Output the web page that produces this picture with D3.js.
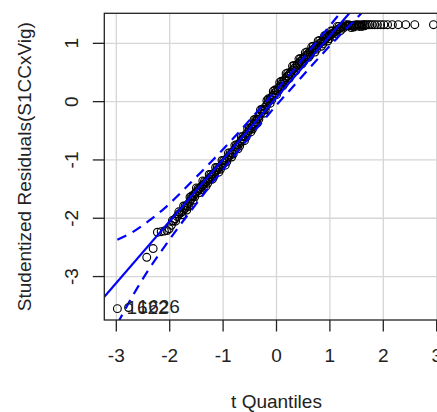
<!DOCTYPE html>
<html>
<head>
<meta charset="utf-8">
<script src="https://cdnjs.cloudflare.com/ajax/libs/d3/7.8.5/d3.min.js"></script>
<style>
  body { margin: 0; background: #fff; }
  svg { font-family: "Liberation Sans", Arial, Helvetica, sans-serif; }
</style>
</head>
<body>
<svg width="437" height="412"></svg>
<script>
// t quantiles (x) and studentized residuals (y)
const qx = [
  -2.98, -2.77, -2.43, -2.31, -2.23, -2.16, -2.10, -2.05, -2.01, -1.97,
  -1.93, -1.90, -1.86, -1.83, -1.80, -1.77, -1.74, -1.71, -1.68, -1.65,
  -1.62, -1.59, -1.56, -1.53, -1.50, -1.47, -1.44, -1.41, -1.38, -1.35,
  -1.32, -1.29, -1.26, -1.23, -1.20, -1.17, -1.14, -1.11, -1.08, -1.05,
  -1.02, -0.99, -0.96, -0.93, -0.90, -0.87, -0.84, -0.81, -0.78, -0.75,
  -0.72, -0.69, -0.66, -0.63, -0.60, -0.57, -0.54, -0.51, -0.48, -0.45,
  -0.42, -0.39, -0.36, -0.33, -0.30, -0.27, -0.24, -0.21, -0.18, -0.15,
  -0.12, -0.09, -0.06, -0.03, 0.00, 0.03, 0.06, 0.09, 0.12, 0.15,
  0.18, 0.21, 0.24, 0.27, 0.30, 0.33, 0.36, 0.39, 0.42, 0.45,
  0.48, 0.51, 0.54, 0.57, 0.60, 0.63, 0.66, 0.69, 0.72, 0.75,
  0.78, 0.81, 0.84, 0.87, 0.90, 0.93, 0.96, 0.99, 1.02, 1.05,
  1.08, 1.11, 1.14, 1.17, 1.20, 1.23, 1.26, 1.29, 1.32, 1.35,
  1.38, 1.41, 1.44, 1.47, 1.50, 1.53, 1.56, 1.59, 1.62, 1.65,
  1.68, 1.72, 1.75, 1.79, 1.84, 1.89, 1.95, 2.01, 2.08, 2.17,
  2.28, 2.42, 2.59, 2.94
];
const res = [
  -3.55, -3.53, -2.67, -2.52, -2.24, -2.23, -2.22, -2.21, -2.18, -2.12,
  -2.05, -2.01, -1.97, -1.93, -1.91, -1.89, -1.86, -1.83, -1.79, -1.75,
  -1.71, -1.66, -1.62, -1.58, -1.55, -1.53, -1.49, -1.46, -1.43, -1.41,
  -1.38, -1.35, -1.32, -1.29, -1.26, -1.23, -1.20, -1.17, -1.14, -1.11,
  -1.08, -1.05, -1.02, -0.98, -0.95, -0.92, -0.88, -0.85, -0.82, -0.78,
  -0.74, -0.71, -0.67, -0.64, -0.60, -0.56, -0.53, -0.49, -0.45, -0.42,
  -0.38, -0.34, -0.30, -0.25, -0.21, -0.17, -0.13, -0.09, -0.05, 0.00,
  0.04, 0.08, 0.11, 0.15, 0.19, 0.23, 0.26, 0.30, 0.34, 0.37,
  0.41, 0.44, 0.47, 0.51, 0.54, 0.57, 0.60, 0.63, 0.66, 0.69,
  0.72, 0.74, 0.77, 0.80, 0.83, 0.85, 0.87, 0.90, 0.92, 0.95,
  0.97, 1.00, 1.02, 1.04, 1.06, 1.09, 1.11, 1.13, 1.15, 1.17,
  1.19, 1.21, 1.23, 1.25, 1.27, 1.285, 1.29, 1.295, 1.30, 1.30,
  1.305, 1.305, 1.31, 1.31, 1.31, 1.315, 1.315, 1.315, 1.32, 1.32,
  1.32, 1.32, 1.32, 1.32, 1.32, 1.32, 1.32, 1.32, 1.32, 1.32,
  1.32, 1.32, 1.32, 1.32
];

// more observations inside the dense band
const qxBand = [
  -1.95, -1.89, -1.83, -1.77, -1.71, -1.65, -1.59, -1.53, -1.47, -1.41,
  -1.35, -1.29, -1.23, -1.17, -1.11, -1.05, -0.99, -0.93, -0.87, -0.81,
  -0.75, -0.69, -0.63, -0.57, -0.51, -0.45, -0.39, -0.33, -0.27, -0.21,
  -0.15, -0.09, -0.03, 0.03, 0.09, 0.15, 0.21, 0.27, 0.33, 0.39,
  0.45, 0.51, 0.57, 0.63, 0.69, 0.75, 0.81, 0.87, 0.93, 0.99,
  1.05, 1.11, 1.17, 1.25, 1.35, 1.45, 1.55, 1.65,
  -1.74, -1.68, -1.62, -1.56, -1.50, -1.44, -1.38, -1.32, -1.26, -1.20,
  -1.14, -1.08, -1.02, -0.96, -0.90, -0.84, -0.78, -0.72, -0.66, -0.60,
  -0.54, -0.48, -0.42, -0.36, -0.30, -0.24, -0.18, -0.12, -0.06, 0.00,
  0.06, 0.12, 0.18, 0.24, 0.30, 0.36, 0.42, 0.48, 0.54, 0.60,
  0.66, 0.72, 0.78, 0.84, 0.90, 0.96, 1.02, 1.08, 1.14, 1.20,
  1.30, 1.40, 1.50, 1.60
];
const resBand = [
  -2.04, -2.05, -1.89, -1.94, -1.79, -1.80, -1.62, -1.63, -1.49, -1.51,
  -1.37, -1.40, -1.25, -1.28, -1.13, -1.16, -1.01, -1.03, -0.88, -0.90,
  -0.74, -0.76, -0.60, -0.61, -0.45, -0.47, -0.30, -0.30, -0.13, -0.14,
  0.05, 0.03, 0.20, 0.18, 0.35, 0.32, 0.49, 0.46, 0.62, 0.58,
  0.74, 0.69, 0.85, 0.80, 0.95, 0.90, 1.05, 0.99, 1.14, 1.08,
  1.21, 1.17, 1.29, 1.26, 1.32, 1.28, 1.29, 1.30,
  -1.79, -1.86, -1.64, -1.69, -1.48, -1.56, -1.36, -1.45, -1.25, -1.33,
  -1.13, -1.21, -1.01, -1.09, -0.88, -0.95, -0.75, -0.81, -0.60, -0.67,
  -0.46, -0.52, -0.31, -0.37, -0.14, -0.20, 0.02, -0.03, 0.18, 0.12,
  0.33, 0.27, 0.48, 0.40, 0.61, 0.53, 0.73, 0.65, 0.84, 0.76,
  0.94, 0.85, 1.04, 0.95, 1.13, 1.04, 1.21, 1.12, 1.29, 1.22,
  1.32, 1.27, 1.32, 1.29
];

// reference line and its confidence envelope
const fitIntercept = 0.07;
const fitSlope = 1.06;
const envX     = [-2.98, -2.7, -2.4, -2.1, -1.8, -1.5, -1.2, -0.8, -0.4, 0, 0.4, 0.8, 1.2, 1.5, 1.8, 2.1, 2.4, 2.7, 2.94];
const envUpper = [-2.37, -2.24, -2.05, -1.83, -1.57, -1.29, -1.01, -0.62, -0.21, 0.20, 0.63, 1.08, 1.53, 1.89, 2.25, 2.63, 3.03, 3.48, 3.90];
const envLower = [-3.81, -3.34, -2.89, -2.49, -2.11, -1.75, -1.39, -0.94, -0.49, -0.06, 0.35, 0.76, 1.15, 1.43, 1.71, 1.97, 2.19, 2.38, 2.48];

// labelled extreme points
const idIndex = [0, 1];
const idLabels = ["1622", "1626"];

const xTicks = [-3, -2, -1, 0, 1, 2, 3];
const yTicks = [-3, -2, -1, 0, 1];

const svg = d3.select("svg");
const pLeft = 104.3, pTop = 13.3, pBottom = 320, pRight = 448.7;

const x = d3.scaleLinear().domain([-3.225, 3.225]).range([pLeft, pRight]);
const y = d3.scaleLinear().domain([-3.745, 1.515]).range([pBottom, pTop]);

svg.append("clipPath").attr("id", "plotclip")
  .append("rect")
  .attr("x", pLeft).attr("y", pTop)
  .attr("width", pRight - pLeft).attr("height", pBottom - pTop);

const plot = svg.append("g").attr("clip-path", "url(#plotclip)");

// grid
plot.selectAll(".gx").data(xTicks).join("line")
  .attr("x1", d => x(d)).attr("x2", d => x(d))
  .attr("y1", pTop).attr("y2", pBottom)
  .attr("stroke", "#d6d6d6").attr("stroke-width", 1.3);
plot.selectAll(".gy").data(yTicks).join("line")
  .attr("x1", pLeft).attr("x2", pRight)
  .attr("y1", d => y(d)).attr("y2", d => y(d))
  .attr("stroke", "#d6d6d6").attr("stroke-width", 1.3);

// points
const pts = qx.map((v, i) => [v, res[i]])
  .concat(qxBand.map((v, i) => [v, resBand[i]]));
plot.selectAll("circle").data(pts).join("circle")
  .attr("cx", d => x(d[0]))
  .attr("cy", d => y(d[1]))
  .attr("r", 3.9)
  .attr("fill", "none")
  .attr("stroke", "#000")
  .attr("stroke-width", 1.15);

// fitted line
const dom = x.domain();
plot.append("line")
  .attr("x1", x(dom[0])).attr("y1", y(fitIntercept + fitSlope * dom[0]))
  .attr("x2", x(dom[1])).attr("y2", y(fitIntercept + fitSlope * dom[1]))
  .attr("stroke", "#0000ff").attr("stroke-width", 2.2);

// envelope
const envLine = d3.line().curve(d3.curveMonotoneX);
[envUpper, envLower].forEach(band => {
  plot.append("path")
    .attr("d", envLine(envX.map((v, i) => [x(v), y(band[i])])))
    .attr("fill", "none")
    .attr("stroke", "#0000ff")
    .attr("stroke-width", 2.2)
    .attr("stroke-dasharray", "10,7");
});

// id labels
plot.selectAll(".lab").data(idIndex).join("text")
  .attr("x", d => x(qx[d]) + 9)
  .attr("y", d => y(res[d]))
  .attr("dy", "0.3em")
  .attr("font-size", 19)
  .attr("fill", "#222")
  .text((d, i) => idLabels[i]);

// box
svg.append("rect")
  .attr("x", pLeft).attr("y", pTop)
  .attr("width", pRight - pLeft).attr("height", pBottom - pTop)
  .attr("fill", "none").attr("stroke", "#222").attr("stroke-width", 1.3);

// x axis
const gx = svg.append("g").attr("transform", `translate(0,${pBottom})`);
gx.selectAll("line").data(xTicks).join("line")
  .attr("x1", d => x(d)).attr("x2", d => x(d))
  .attr("y1", 0).attr("y2", 11.5)
  .attr("stroke", "#222").attr("stroke-width", 1.3);
gx.selectAll("text").data(xTicks).join("text")
  .attr("x", d => x(d)).attr("y", 42)
  .attr("text-anchor", "middle")
  .attr("font-size", 19).attr("fill", "#222")
  .text(d => d);

// y axis
const gy = svg.append("g");
gy.selectAll("line").data(yTicks).join("line")
  .attr("x1", pLeft - 11.5).attr("x2", pLeft)
  .attr("y1", d => y(d)).attr("y2", d => y(d))
  .attr("stroke", "#222").attr("stroke-width", 1.3);
gy.selectAll("text").data(yTicks).join("text")
  .attr("transform", d => `translate(78.3,${y(d)}) rotate(-90)`)
  .attr("text-anchor", "middle")
  .attr("font-size", 19).attr("fill", "#222")
  .text(d => d);

// axis titles
svg.append("text")
  .attr("x", (pLeft + pRight) / 2).attr("y", 408)
  .attr("text-anchor", "middle")
  .attr("font-size", 19).attr("fill", "#222")
  .text("t Quantiles");
svg.append("text")
  .attr("transform", `translate(31,${(pTop + pBottom) / 2}) rotate(-90)`)
  .attr("text-anchor", "middle")
  .attr("font-size", 19).attr("fill", "#222")
  .text("Studentized Residuals(S1CCxVig)");
</script>
</body>
</html>
